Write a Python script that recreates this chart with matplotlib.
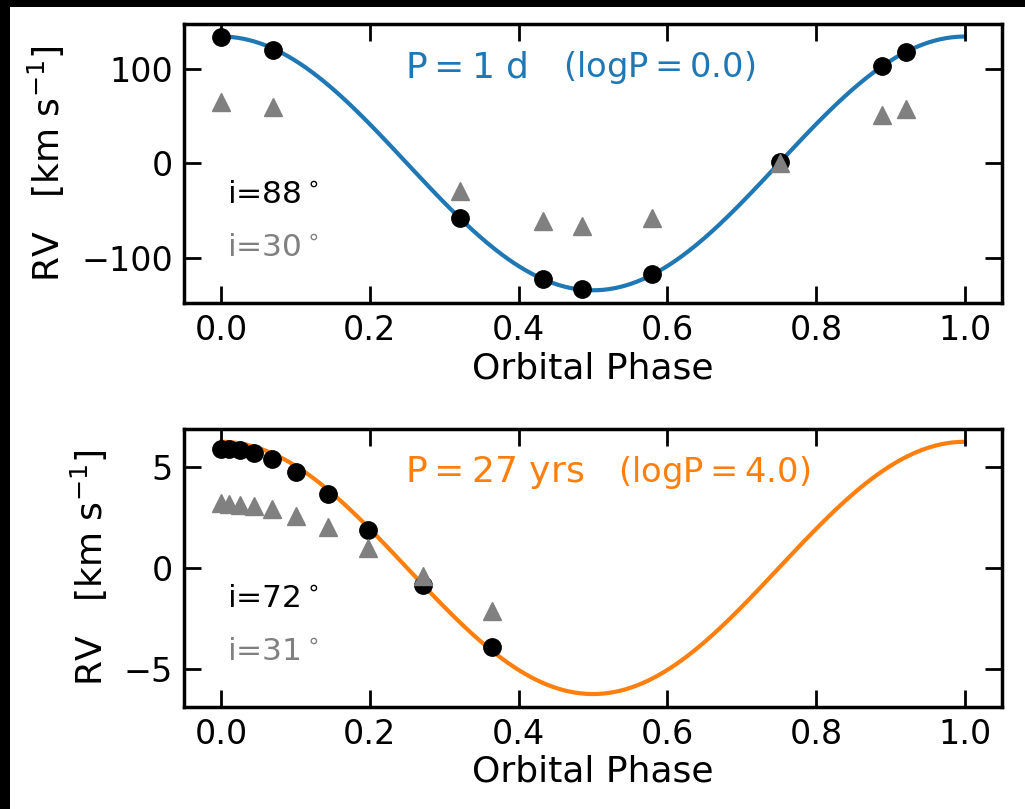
import numpy as np
import matplotlib
matplotlib.use("Agg")
import matplotlib.pyplot as plt
from matplotlib.patches import Rectangle

# top panel: P = 1 d
phase_1d = [0.0, 0.070, 0.321, 0.433, 0.485, 0.580, 0.752, 0.889, 0.921]
rv_1d_i88 = [133, 120, -58, -122, -133, -117, 2, 103, 118]
rv_1d_i30 = [65, 60, -29, -61, -66, -58, 0, 51, 58]
K_1d = 134.0

# bottom panel: P = 27 yrs
phase_27y = [0.0, 0.011, 0.025, 0.044, 0.068, 0.100, 0.143, 0.198, 0.271, 0.364]
rv_27y_i72 = [5.89, 5.86, 5.82, 5.69, 5.36, 4.73, 3.63, 1.86, -0.83, -3.91]
rv_27y_i31 = [3.22, 3.18, 3.13, 3.08, 2.92, 2.55, 2.01, 0.99, -0.41, -2.15]
K_27y = 6.23

panels = [
    dict(phase=phase_1d, hi=rv_1d_i88, lo=rv_1d_i30, K=K_1d, color='#1f77b4',
         title=r'$\mathrm{P=1\ d}$', logp=r'(log$\mathrm{P=0.0}$)', logp_x=0.463,
         hi_lab=r'i=88$^\circ$', lo_lab=r'i=30$^\circ$', ticks=[-100, 0, 100]),
    dict(phase=phase_27y, hi=rv_27y_i72, lo=rv_27y_i31, K=K_27y, color='#ff7f0e',
         title=r'$\mathrm{P=27\ yrs}$', logp=r'(log$\mathrm{P=4.0}$)', logp_x=0.531,
         hi_lab=r'i=72$^\circ$', lo_lab=r'i=31$^\circ$', ticks=[-5, 0, 5]),
]

plt.rcParams['font.size'] = 24

fig = plt.figure(figsize=(10.25, 8.09), dpi=100, facecolor='black')
# white page over the dark background
page = Rectangle((10 / 1025, 0), 1, 1 - 7 / 809, transform=fig.transFigure,
                 facecolor='white', edgecolor='none', zorder=-10)
fig.add_artist(page)

positions = [[0.1795, 0.6255, 0.798, 0.345], [0.1795, 0.1265, 0.798, 0.343]]

for pos, p in zip(positions, panels):
    ax = fig.add_axes(pos)
    grid = np.linspace(0, 1, 400)
    ax.plot(grid, p['K'] * np.cos(2 * np.pi * grid), color=p['color'], lw=3, zorder=1)
    ax.plot(p['phase'], p['hi'], 'o', color='black', ms=12.5, zorder=2)
    ax.plot(p['phase'], p['lo'], '^', color='gray', ms=13, zorder=3)
    ax.set_xlim(-0.05, 1.05)
    ax.set_ylim(-1.1 * p['K'], 1.1 * p['K'])
    ax.set_yticks(p['ticks'])
    ax.set_xticks([0.0, 0.2, 0.4, 0.6, 0.8, 1.0])
    ax.tick_params(direction='in', top=True, right=True, length=12, width=2, pad=8)
    for s in ax.spines.values():
        s.set_linewidth(2.5)
    ax.set_xlabel('Orbital Phase', fontsize=26, labelpad=3)
    ax.set_ylabel(r'RV   [km s$^{-1}$]', fontsize=26, labelpad=10)
    ax.text(0.27, 0.845, p['title'], color=p['color'], transform=ax.transAxes,
            va='center', ha='left', fontsize=26)
    ax.text(p['logp_x'], 0.845, p['logp'], color=p['color'], transform=ax.transAxes,
            va='center', ha='left', fontsize=24.3)
    ax.text(0.053, 0.39, p['hi_lab'], color='black', transform=ax.transAxes,
            va='center', ha='left', fontsize=22.5)
    ax.text(0.053, 0.197, p['lo_lab'], color='gray', transform=ax.transAxes,
            va='center', ha='left', fontsize=22.5)

fig.savefig('out.png', dpi=100, facecolor=fig.get_facecolor())
